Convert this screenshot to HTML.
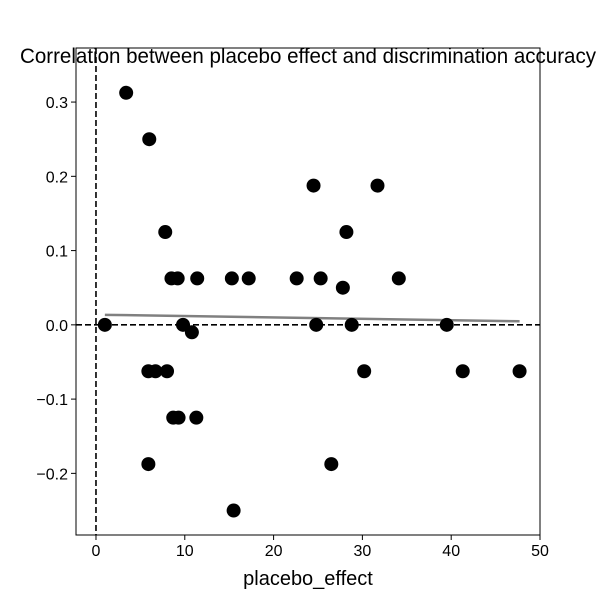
<!DOCTYPE html>
<html><head><meta charset="utf-8"><style>
body{margin:0;background:#fff}
svg{display:block;font-family:"Liberation Sans",Arial,sans-serif}
</style></head><body>
<svg id="chart" width="600" height="600">
<rect x="0" y="0" width="600" height="600" fill="#fff"/>
<text x="308" y="63" text-anchor="middle" font-size="21" textLength="576" lengthAdjust="spacingAndGlyphs">Correlation between placebo effect and discrimination accuracy</text>
<g id="grid"></g>
<g id="marks"></g>
<text x="308" y="585" text-anchor="middle" font-size="20">placebo_effect</text>
</svg>
<script>
const xs=[1,3.4,6,7.8,8.5,9.2,11.4,15.3,17.2,22.6,25.3,34.1,24.5,31.7,28.2,27.8,9.8,10.8,24.8,28.8,39.5,5.9,6.7,8,30.2,41.3,47.7,8.7,9.3,11.3,5.9,26.5,15.5];
const ys=[0,0.3125,0.25,0.125,0.0625,0.0625,0.0625,0.0625,0.0625,0.0625,0.0625,0.0625,0.1875,0.1875,0.125,0.05,0,-0.01,0,0,0,-0.0625,-0.0625,-0.0625,-0.0625,-0.0625,-0.0625,-0.125,-0.125,-0.125,-0.1875,-0.1875,-0.25];
const xTicks=[0,10,20,30,40,50];
const yTicks=[0.3,0.2,0.1,0.0,-0.1,-0.2];
const yTickLabels=["0.3","0.2","0.1","0.0","\u22120.1","\u22120.2"];
const fitLine=[[1,0.0135],[47.7,0.0048]];
const L=76,R=540,T=48,B=535,xMin=-2.25,xMax=50,yMin=-0.283,yMax=0.3728;
const sx=v=>L+(v-xMin)/(xMax-xMin)*(R-L);
const sy=v=>B-(v-yMin)/(yMax-yMin)*(B-T);
const NS="http://www.w3.org/2000/svg";
const g=document.getElementById('grid'),m=document.getElementById('marks');
function mk(p,tag,a){const e=document.createElementNS(NS,tag);for(const k in a)e.setAttribute(k,a[k]);p.appendChild(e);return e;}
xTicks.forEach(t=>{
 const tk=mk(g,'line',{x1:sx(t),x2:sx(t),y1:B,y2:B+5,stroke:'#000'});
 
 
 const tx=mk(g,'text',{x:sx(t),y:B+21,'text-anchor':'middle','font-size':16});tx.textContent=t;
 
 
});
yTicks.forEach((t,i)=>{
 const tk=mk(g,'line',{x1:L-5,x2:L,y1:sy(t),y2:sy(t),stroke:'#000'});
 
 
 const tx=mk(g,'text',{x:L-8,y:sy(t)+6,'text-anchor':'end','font-size':16});tx.textContent=yTickLabels[i];
 
 
});
const h=mk(m,'line',{x1:L,x2:R,y1:sy(0),y2:sy(0),stroke:'#000','stroke-width':1.6,'stroke-dasharray':'6,3'});


const v=mk(m,'line',{x1:sx(0),x2:sx(0),y1:T,y2:B,stroke:'#000','stroke-width':1.6,'stroke-dasharray':'6,3'});


const fl=mk(m,'line',{x1:sx(fitLine[0][0]),y1:sy(fitLine[0][1]),x2:sx(fitLine[1][0]),y2:sy(fitLine[1][1]),stroke:'#808080','stroke-width':2.5});


xs.forEach((x,i)=>{
 const c=mk(m,'circle',{cx:sx(x),cy:sy(ys[i]),r:7,fill:'#000'});
 
 
});
const fr=mk(m,'rect',{x:L,y:T,width:R-L,height:B-T,fill:'none',stroke:'#000','stroke-width':1});


</script>
</body></html>
